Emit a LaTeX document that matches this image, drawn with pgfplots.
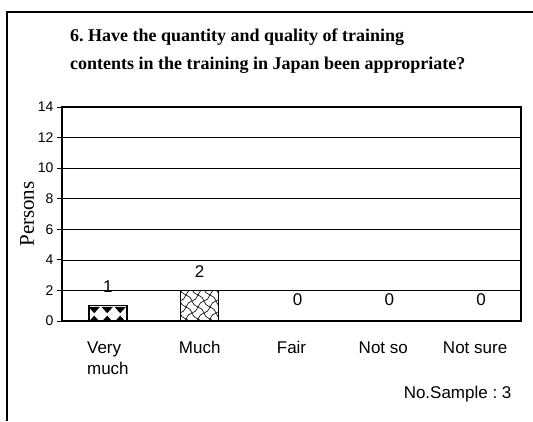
\documentclass[border=0pt]{standalone}
\usepackage{fontspec}
\setmainfont{Liberation Sans}
\newfontfamily\serif{Liberation Serif}
\usepackage{pgfplots}
\pgfplotsset{compat=1.18}
\usetikzlibrary{patterns}
\frenchspacing

% black triangles top and bottom, white bow ties between
\pgfdeclarepatternformonly{scallop}{\pgfpointorigin}{\pgfpoint{12.67pt}{20pt}}{\pgfpoint{12.67pt}{20pt}}{
  \pgfpathmoveto{\pgfpoint{0.5pt}{15.5pt}}
  \pgfpathlineto{\pgfpoint{12.17pt}{15.5pt}}
  \pgfpathlineto{\pgfpoint{6.33pt}{9pt}}
  \pgfpathclose
  \pgfpathmoveto{\pgfpoint{0.5pt}{0pt}}
  \pgfpathlineto{\pgfpoint{12.17pt}{0pt}}
  \pgfpathlineto{\pgfpoint{6.33pt}{6.5pt}}
  \pgfpathclose
  \pgfusepath{fill}
}
% wavy cross lines
\pgfdeclarepatternformonly{waves}{\pgfpoint{-1pt}{-1pt}}{\pgfpoint{13pt}{13pt}}{\pgfpoint{12pt}{12pt}}{
  \pgfsetlinewidth{0.6pt}
  \pgfpathmoveto{\pgfpoint{0pt}{0pt}}
  \pgfpathcurveto{\pgfpoint{6pt}{0pt}}{\pgfpoint{6pt}{12pt}}{\pgfpoint{12pt}{12pt}}
  \pgfpathmoveto{\pgfpoint{0pt}{12pt}}
  \pgfpathcurveto{\pgfpoint{0pt}{6pt}}{\pgfpoint{12pt}{6pt}}{\pgfpoint{12pt}{0pt}}
  \pgfusepath{stroke}
}

\begin{document}
\begin{tikzpicture}
\useasboundingbox (0,0) rectangle (533pt,421pt);
\draw[line width=1.2pt] (7pt,0pt) -- (7pt,409pt) -- (533pt,409pt);

\node[anchor=base west, inner sep=0pt, font=\serif\bfseries\fontsize{18}{18}\selectfont] at (70pt,379pt)
  {6. Have the quantity and quality of training};
\node[anchor=base west, inner sep=0pt, font=\serif\bfseries\fontsize{18}{18}\selectfont] at (70pt,351pt)
  {contents in the training in Japan been appropriate?};

\begin{axis}[
    at={(62pt,100pt)}, anchor=south west,
    width=459pt, height=214pt, scale only axis,
    xmin=-0.5, xmax=4.5,
    ymin=0, ymax=14,
    ytick={0,2,4,6,8,10,12,14},
    xtick={0,1,2,3,4},
    xticklabels={{Very\\much},Much,Fair,Not so,Not sure},
    x tick label style={align=left, font=\fontsize{17}{21}\selectfont, yshift=-12pt},
    y tick label style={font=\fontsize{14}{14}\selectfont},
    /pgf/number format/assume math mode=true,
    ymajorgrids,
    grid style={black, line width=0.6pt},
    xtick style={draw=none},
    ytick style={black, line width=0.8pt},
    ytick pos=left,
    tick align=outside,
    major tick length=5pt,
    axis line style={line width=1.2pt},
    ylabel={\serif Persons},
    ylabel style={font=\fontsize{21}{21}\selectfont, at={(axis description cs:-0.076,0.5)}, anchor=center},
    nodes near coords,
    every node near coord/.append style={font=\fontsize{17}{17}\selectfont, text=black, yshift=9pt},
]
\addplot[ybar, bar shift=0pt, bar width=38pt, draw=black, line width=1.2pt, pattern=scallop]
    coordinates {(0,1)};
\addplot[ybar, bar shift=0pt, bar width=38pt, draw=black, line width=1.2pt, pattern=waves]
    coordinates {(1,2)};
\addplot[ybar, bar shift=0pt, bar width=38pt, draw=none,
    every node near coord/.append style={xshift=6pt, yshift=3pt}]
    coordinates {(2,0) (3,0) (4,0)};
\end{axis}

\node[anchor=base east, font=\fontsize{17}{17}\selectfont] at (515pt,23pt) {No.Sample : 3};
\end{tikzpicture}
\end{document}
